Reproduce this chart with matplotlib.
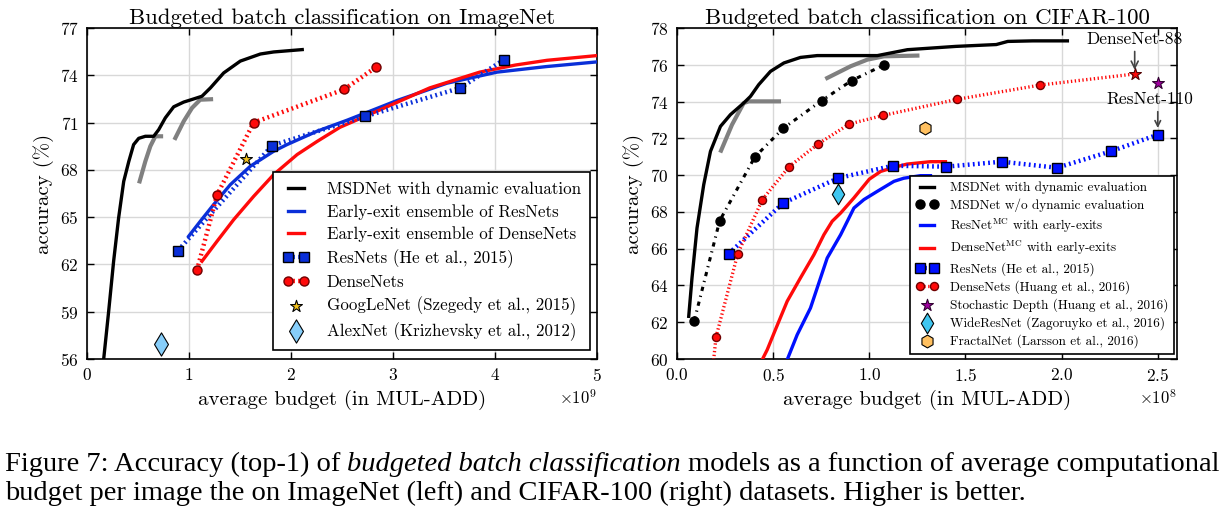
import numpy as np
import matplotlib.pyplot as plt

plt.rcParams.update({
    'font.family': 'cmr10',
    'mathtext.fontset': 'cm',
    'axes.formatter.use_mathtext': True,
    'axes.unicode_minus': False,
})

# ---------------- ImageNet (budget in 1e9 MUL-ADD) ----------------
in_msd_x = [0.163, 0.212, 0.261, 0.31, 0.36, 0.41, 0.457, 0.507, 0.572, 0.654, 0.703, 0.768,
            0.85, 0.948, 1.046, 1.127, 1.21, 1.34, 1.503, 1.70, 1.83, 2.11]
in_msd_y = [55.96, 59.0, 62.2, 64.95, 67.27, 68.54, 69.6, 70.0, 70.13, 70.13, 70.55, 71.3,
            72.0, 72.3, 72.5, 72.67, 73.2, 74.15, 74.9, 75.35, 75.48, 75.63]
in_gray1_x = [0.516, 0.572, 0.621, 0.67, 0.726]
in_gray1_y = [67.27, 68.54, 69.5, 70.13, 70.13]
in_gray2_x = [0.866, 0.948, 1.03, 1.11, 1.216]
in_gray2_y = [70.02, 71.08, 71.93, 72.45, 72.48]
in_res_ens_x = [0.997, 1.111, 1.242, 1.405, 1.601, 1.83, 1.96, 2.255, 2.55, 3.04, 3.53,
                4.02, 4.5, 5.0]
in_res_ens_y = [63.79, 64.74, 65.8, 67.06, 68.23, 69.18, 69.6, 70.45, 71.15, 72.4, 73.5,
                74.2, 74.55, 74.85]
in_dense_ens_x = [1.127, 1.275, 1.438, 1.634, 1.83, 2.06, 2.255, 2.48, 2.87, 3.36, 3.85,
                  4.2, 4.51, 5.0]
in_dense_ens_y = [62.2, 63.47, 64.84, 66.32, 67.7, 68.97, 69.8, 70.7, 71.8, 73.2, 74.2,
                  74.65, 74.95, 75.25]
in_resnets_x = [0.892, 1.814, 2.73, 3.66, 4.09]
in_resnets_y = [62.88, 69.54, 71.4, 73.2, 75.0]
in_densenets_x = [1.078, 1.275, 1.634, 2.52, 2.83]
in_densenets_y = [61.63, 66.41, 71.0, 73.1, 74.5]
googlenet = (1.562, 68.71)
alexnet = (0.725, 56.92)

# ---------------- CIFAR-100 (budget in 1e8 MUL-ADD) ----------------
c_msd_x = [0.061, 0.078, 0.104, 0.139, 0.174, 0.226, 0.278, 0.347, 0.382, 0.425, 0.486,
           0.556, 0.642, 0.729, 1.042, 1.198, 1.45, 1.66, 1.72, 1.85, 2.03]
c_msd_y = [62.32, 64.41, 67.12, 69.48, 71.29, 72.65, 73.29, 73.92, 74.28, 74.92, 75.64,
           76.1, 76.4, 76.5, 76.5, 76.82, 77.0, 77.1, 77.27, 77.3, 77.3]
c_gray1_x = [0.229, 0.286, 0.347, 0.373, 0.53]
c_gray1_y = [71.33, 72.74, 73.92, 74.01, 74.01]
c_gray2_x = [0.781, 0.903, 0.99, 1.076, 1.25]
c_gray2_y = [75.28, 75.92, 76.28, 76.46, 76.5]
c_msd_nodyn_x = [0.09, 0.222, 0.405, 0.552, 0.752, 0.908, 1.078]
c_msd_nodyn_y = [62.09, 67.52, 70.99, 72.54, 74.05, 75.14, 76.0]
c_resmc_x = [0.573, 0.625, 0.694, 0.781, 0.851, 0.92, 0.972, 1.042, 1.128, 1.179, 1.266, 1.318]
c_resmc_y = [59.96, 61.32, 62.77, 65.49, 66.76, 68.21, 68.67, 69.12, 69.66, 69.83, 69.97, 69.97]
c_densemc_x = [0.443, 0.469, 0.512, 0.573, 0.642, 0.712, 0.764, 0.807, 0.851, 0.92, 1.0,
               1.059, 1.128, 1.196, 1.318, 1.396]
c_densemc_y = [59.96, 60.5, 61.6, 63.14, 64.41, 65.67, 66.76, 67.49, 67.94, 68.76, 69.78,
               70.2, 70.42, 70.6, 70.73, 70.73]
c_resnets_x = [0.269, 0.552, 0.839, 1.122, 1.40, 1.69, 1.976, 2.258, 2.50]
c_resnets_y = [65.73, 68.48, 69.84, 70.51, 70.46, 70.73, 70.4, 71.3, 72.2]
c_densenets_x = [0.176, 0.203, 0.316, 0.444, 0.583, 0.733, 0.896, 1.073, 1.456, 1.89, 2.38]
c_densenets_y = [58.5, 61.2, 65.73, 68.67, 70.46, 71.69, 72.78, 73.25, 74.12, 74.9, 75.5]
densenet88 = (2.38, 75.5)
stoch_depth = (2.50, 75.0)
wideresnet = (0.839, 69.0)
fractalnet = (1.29, 72.55)

W, H = 1227, 514
fig = plt.figure(figsize=(W / 100, H / 100), dpi=100)
ax1 = fig.add_axes([87 / W, 155 / H, 510 / W, 331 / H])
ax2 = fig.add_axes([677 / W, 155 / H, 500 / W, 331 / H])


def style(ax):
    ax.grid(True, color='#d8d8d8', lw=1)
    ax.set_axisbelow(True)
    ax.tick_params(direction='in', top=True, right=True, length=5, width=1,
                   labelsize=12.5, pad=6)
    for s in ax.spines.values():
        s.set_linewidth(1.2)
    ax.xaxis.get_offset_text().set_fontsize(12)


def sc(v, f):
    return np.array(v) * f


dots = (0.4, 0.75)
blue_l = '#0a2fd8'
red = '#ff0a0a'
lw = 2.4

# ---- left: ImageNet
e9 = 1e9
ax1.plot(sc(in_msd_x, e9), in_msd_y, color='k', lw=lw, label='MSDNet with dynamic evaluation', zorder=3)
ax1.plot(sc(in_gray1_x, e9), in_gray1_y, color='gray', lw=3, zorder=2)
ax1.plot(sc(in_gray2_x, e9), in_gray2_y, color='gray', lw=3, zorder=2)
ax1.plot(sc(in_res_ens_x, e9), in_res_ens_y, color=blue_l, lw=lw, label='Early-exit ensemble of ResNets', zorder=3)
ax1.plot(sc(in_dense_ens_x, e9), in_dense_ens_y, color=red, lw=lw, label='Early-exit ensemble of DenseNets', zorder=3)
ax1.plot(sc(in_resnets_x, e9), in_resnets_y, color=blue_l, lw=3.2, dashes=dots, marker='s', ms=7.5,
         mec='k', mew=1, label='ResNets (He et al., 2015)', zorder=4)
ax1.plot(sc(in_densenets_x, e9), in_densenets_y, color=red, lw=3.2, dashes=dots, marker='o', ms=6.5,
         mec='#700000', mew=1, label='DenseNets', zorder=4)
ax1.scatter([googlenet[0] * e9], [googlenet[1]], marker='*', s=80, color='#f5c31c', edgecolors='k',
            linewidths=0.8, label='GoogLeNet (Szegedy et al., 2015)', zorder=5)
ax1.scatter([alexnet[0] * e9], [alexnet[1]], marker='d', s=140, color='#87cefa', edgecolors='k',
            linewidths=0.8, label='AlexNet (Krizhevsky et al., 2012)', zorder=5)

ax1.set_xlim(0, 5e9)
ax1.set_ylim(56, 77)
ax1.set_yticks(np.arange(56, 78, 3))
ax1.set_title('Budgeted batch classification on ImageNet', fontsize=16.4, pad=3)
ax1.set_xlabel('average budget (in MUL-ADD)', fontsize=15)
ax1.set_ylabel('accuracy (%)', fontsize=15)
style(ax1)
ax1.legend(loc='lower left', bbox_to_anchor=(0.365, 0.027), borderaxespad=0, numpoints=2,
           scatterpoints=1, fancybox=False, edgecolor='k', framealpha=1, fontsize=12.2,
           handlelength=1.6, handletextpad=1.0, labelspacing=0.4, borderpad=0.55
           ).get_frame().set_linewidth(1.2)

# ---- right: CIFAR-100
e8 = 1e8
ax2.plot(sc(c_msd_x, e8), c_msd_y, color='k', lw=lw, label='MSDNet with dynamic evaluation', zorder=3)
ax2.plot(sc(c_gray1_x, e8), c_gray1_y, color='gray', lw=3, zorder=2)
ax2.plot(sc(c_gray2_x, e8), c_gray2_y, color='gray', lw=3, zorder=2)
ax2.plot(sc(c_msd_nodyn_x, e8), c_msd_nodyn_y, color='k', lw=2.2, linestyle=(0, (1.4, 1.6, 0.4, 1.6)),
         marker='o', ms=6.5, label='MSDNet w/o dynamic evaluation', zorder=4)
ax2.plot(sc(c_resmc_x, e8), c_resmc_y, color='#0010ff', lw=lw, label=r'ResNet$^{\rm MC}$ with early-exits', zorder=3)
ax2.plot(sc(c_densemc_x, e8), c_densemc_y, color=red, lw=lw, label=r'DenseNet$^{\rm MC}$ with early-exits', zorder=3)
ax2.plot(sc(c_resnets_x, e8), c_resnets_y, color='#0010ff', lw=3.2, dashes=dots, marker='s', ms=7,
         mec='k', mew=1, label='ResNets (He et al., 2015)', zorder=4)
ax2.plot(sc(c_densenets_x[:-1], e8), c_densenets_y[:-1], color=red, lw=2.4, dashes=dots, marker='o', ms=5.8,
         mec='#700000', mew=1, label='DenseNets (Huang et al., 2016)', zorder=4)
ax2.plot(sc(c_densenets_x[-2:], e8), c_densenets_y[-2:], color=red, lw=2.4, dashes=dots, zorder=4)
ax2.scatter([densenet88[0] * e8], [densenet88[1]], marker='*', s=80, color=red, edgecolors='#500000',
            linewidths=0.8, zorder=5)
ax2.scatter([stoch_depth[0] * e8], [stoch_depth[1]], marker='*', s=80, color='#a000a0', edgecolors='#300030',
            linewidths=0.8, label='Stochastic Depth (Huang et al., 2016)', zorder=5)
ax2.scatter([wideresnet[0] * e8], [wideresnet[1]], marker='d', s=110, color='#3fc6f0', edgecolors='k',
            linewidths=0.8, label='WideResNet (Zagoruyko et al., 2016)', zorder=5)
ax2.scatter([fractalnet[0] * e8], [fractalnet[1]], marker='h', s=85, color='#ffc060', edgecolors='k',
            linewidths=0.8, label='FractalNet (Larsson et al., 2016)', zorder=5)

ax2.annotate('DenseNet-88', xy=(densenet88[0] * e8, 75.72), xytext=(densenet88[0] * e8, 76.95),
             ha='center', va='bottom', fontsize=12.5, annotation_clip=False,
             arrowprops=dict(arrowstyle='->', color='#444444', lw=1.2, shrinkA=1, shrinkB=0), zorder=6)
ax2.text(2.458 * e8, 74.14, 'ResNet-110', ha='center', va='center', fontsize=12.5, clip_on=False, zorder=6)
ax2.annotate('', xy=(stoch_depth[0] * e8, 72.56), xytext=(stoch_depth[0] * e8, 73.45),
             annotation_clip=False,
             arrowprops=dict(arrowstyle='->', color='#444444', lw=1.2, shrinkA=0, shrinkB=0), zorder=6)

ax2.set_xlim(0, 2.6e8)
ax2.set_ylim(60, 78)
ax2.set_xticks(np.arange(0, 2.51e8, 0.5e8))
ax2.set_yticks(np.arange(60, 79, 2))
ax2.set_title('Budgeted batch classification on CIFAR-100', fontsize=16.4, pad=3)
ax2.set_xlabel('average budget (in MUL-ADD)', fontsize=15)
ax2.set_ylabel('accuracy (%)', fontsize=15)
style(ax2)
ax2.legend(loc='lower left', bbox_to_anchor=(0.466, 0.015), borderaxespad=0, numpoints=2,
           scatterpoints=1, fancybox=False, edgecolor='k', framealpha=1, fontsize=9.5,
           handlelength=1.7, handletextpad=0.85, labelspacing=0.33, borderpad=0.45
           ).get_frame().set_linewidth(1.2)

# ---- caption
cap = dict(family='Liberation Serif', fontsize=20.5)
t1 = fig.text(5 / W, 1 - 471 / H, 'Figure 7: Accuracy (top-1) of', va='baseline', **cap)
t2 = ax1.annotate('budgeted batch classification', xy=(1, 0), xycoords=t1, xytext=(5.1, 0),
                  textcoords='offset points', va='bottom', style='italic', annotation_clip=False, **cap)
ax1.annotate('models as a function of average computational', xy=(1, 0), xycoords=t2, xytext=(5.1, 0),
             textcoords='offset points', va='bottom', annotation_clip=False, **cap)
fig.text(5 / W, 1 - 500 / H,
         'budget per image the on ImageNet (left) and CIFAR-100 (right) datasets. Higher is better.',
         va='baseline', **cap)

fig.savefig('out.png', dpi=100)
